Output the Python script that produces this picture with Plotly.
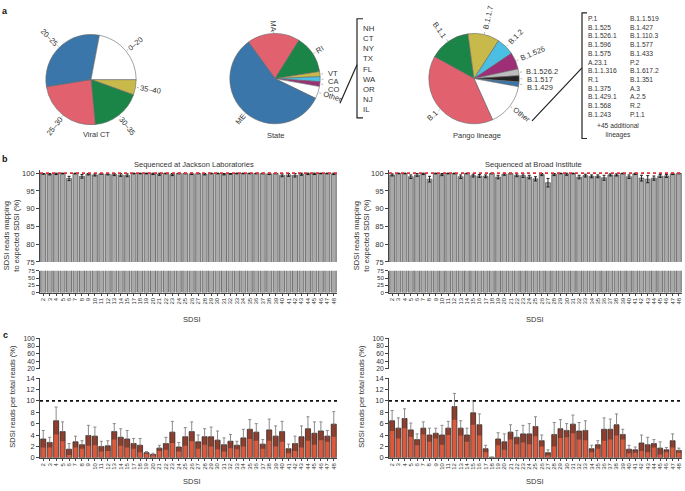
import math
import plotly.graph_objects as go

W, H = 685, 491


def px(x):
    return x / W


def py(y):
    return 1 - y / H


# ---------------- data ----------------
# viral CT slices, listed clockwise from 3 o'clock
ct_labels = ["35\u201340", "30\u201335", "25\u201330", "20\u201325", "0\u201320"]
ct_values = [5.5, 18, 24, 30.5, 22]
ct_colors = ["#c8b94b", "#1b8548", "#e2616f", "#3a76a9", "#ffffff"]

state_labels = ["MA", "RI", "VT", "CA", "CO", "Other", "ME"]
state_values = [18.9, 13.6, 1.8, 1.8, 1.7, 4.4, 57.8]
state_colors = ["#e2616f", "#1b8548", "#c8b94b", "#4bbfe3", "#9e2f77", "#ffffff", "#3a76a9"]
other_states = ["NH", "CT", "NY", "TX", "FL", "WA", "OR", "NJ", "IL"]

pango_labels = ["B.1.1", "B.1.1.7", "B.1.2", "B.1.526", "B.1.526.2", "B.1.517",
                "B.1.429", "Other", "B.1"]
pango_values = [14.8, 11.3, 6.4, 6.0, 2.4, 2.2, 1.7, 15.4, 39.8]
pango_colors = ["#1b8548", "#c8b94b", "#4bbfe3", "#9e2f77", "#bdbdbd", "#222222",
                "#3a76a9", "#ffffff", "#e2616f"]
other_pango_1 = ["P.1", "B.1.525", "B.1.526.1", "B.1.596", "B.1.575", "A.23.1",
                 "B.1.1.316", "R.1", "B.1.375", "B.1.429.1", "B.1.568", "B.1.243"]
other_pango_2 = ["B.1.1.519", "B.1.427", "B.1.110.3", "B.1.577", "B.1.433", "P.2",
                 "B.1.617.2", "B.1.351", "A.3", "A.2.5", "R.2", "P.1.1"]

sdsi_jax = ["2", "3", "4", "5", "6", "7", "8", "9", "10", "11", "12", "13", "14", "15",
            "17", "18", "19", "20", "21", "22", "23", "24", "25", "26", "27", "28", "29",
            "30", "31", "32", "33", "34", "35", "36", "37", "38", "39", "40", "41", "42",
            "43", "44", "45", "46", "47", "48"]
sdsi_broad = ["2", "3", "4", "5", "6", "7", "8", "9", "10", "11", "12", "13", "14", "15",
              "16", "17", "18", "19", "20", "21", "22", "23", "24", "25", "26", "27", "28",
              "29", "30", "31", "32", "33", "34", "35", "36", "37", "38", "39", "40", "41",
              "42", "43", "44", "45", "46", "47", "48"]

map_jax = [99.8, 99.7, 99.8, 99.9, 98.5, 99.9, 99.1, 99.7, 99.5, 99.8, 99.7, 99.6, 99.5,
           99.4, 99.9, 99.9, 99.9, 99.8, 99.7, 99.9, 99.6, 99.9, 99.9, 99.8, 99.9, 99.7,
           99.9, 99.9, 99.7, 99.8, 99.9, 99.9, 99.9, 99.9, 99.9, 99.8, 99.9, 99.4, 99.5,
           99.4, 99.7, 99.8, 99.8, 99.9, 99.9, 99.8]
map_jax_err = [0.1, 0.2, 0.2, 0.1, 0.6, 0.1, 0.5, 0.2, 0.3, 0.1, 0.2, 0.3, 0.4, 0.4, 0.1,
               0.1, 0.1, 0.2, 0.3, 0.1, 0.3, 0.1, 0.1, 0.2, 0.1, 0.2, 0.1, 0.1, 0.2, 0.1,
               0.1, 0.1, 0.1, 0.1, 0.1, 0.2, 0.1, 0.4, 0.4, 0.5, 0.3, 0.2, 0.2, 0.1, 0.1, 0.2]
map_broad = [99.5, 99.9, 99.9, 99.0, 99.5, 99.8, 98.3, 99.9, 99.6, 99.9, 99.9, 99.0, 99.9,
             99.3, 99.2, 99.1, 99.9, 98.9, 99.7, 99.9, 99.4, 99.3, 98.9, 98.4, 99.6, 97.3,
             99.6, 99.9, 99.7, 99.9, 98.9, 99.3, 99.1, 99.1, 98.7, 99.5, 99.5, 99.9, 99.0,
             99.8, 98.6, 98.3, 98.6, 99.2, 99.2, 99.8, 99.9]
map_broad_err = [0.3, 0.1, 0.1, 0.5, 0.4, 0.2, 0.8, 0.1, 0.3, 0.1, 0.1, 0.5, 0.1, 0.4, 0.4,
                 0.4, 0.1, 0.5, 0.3, 0.1, 0.4, 0.5, 0.5, 0.6, 0.3, 1.2, 0.3, 0.1, 0.3, 0.1,
                 0.5, 0.4, 0.4, 0.4, 0.7, 0.3, 0.3, 0.1, 0.5, 0.2, 0.8, 1.0, 0.6, 0.4, 0.4,
                 0.2, 0.1]

frac_jax = [3.3, 2.7, 6.5, 4.6, 1.5, 2.8, 2.3, 3.9, 3.8, 2.0, 2.1, 4.6, 3.6, 3.3, 2.5, 2.2,
            0.9, 0.6, 1.7, 2.5, 4.5, 1.9, 3.7, 4.6, 2.8, 3.7, 3.7, 3.1, 2.3, 2.9, 2.2, 3.5,
            5.0, 4.5, 2.4, 4.9, 3.8, 4.6, 1.6, 2.5, 3.7, 5.1, 4.3, 4.7, 3.8, 5.9]
frac_jax_err = [1.5, 0.9, 2.4, 1.7, 1.0, 1.0, 0.7, 1.8, 1.6, 0.9, 0.9, 1.4, 1.5, 1.5, 0.9,
                1.2, 0.2, 0.2, 0.5, 1.1, 1.9, 0.8, 1.6, 1.7, 1.2, 1.4, 1.7, 1.6, 1.2, 1.2,
                0.7, 1.5, 1.7, 1.5, 0.8, 1.9, 1.8, 1.8, 0.8, 1.3, 1.9, 2.1, 2.0, 1.6, 1.0, 2.2]
frac_broad = [6.5, 5.2, 6.9, 4.9, 3.2, 5.2, 4.0, 4.3, 4.0, 5.2, 9.0, 5.2, 4.0, 7.9, 5.8, 1.6,
              0.1, 3.3, 2.8, 4.5, 3.6, 4.2, 4.2, 5.5, 3.0, 0.9, 4.1, 5.1, 4.8, 5.9, 4.7, 4.8,
              1.6, 2.3, 5.0, 5.0, 5.8, 4.1, 1.5, 1.4, 2.6, 2.3, 2.5, 1.7, 1.4, 3.0, 1.3]
frac_broad_err = [1.8, 1.8, 1.7, 1.2, 1.0, 1.1, 1.2, 0.9, 1.7, 1.2, 2.3, 1.3, 1.2, 2.1, 1.9,
                  0.6, 0.0, 1.1, 1.4, 1.3, 1.2, 1.5, 1.8, 1.7, 1.0, 0.5, 2.1, 1.6, 1.2, 1.6,
                  1.5, 1.7, 0.6, 0.7, 2.0, 1.8, 1.9, 0.9, 0.7, 0.5, 1.4, 1.3, 0.7, 1.1, 0.4,
                  1.2, 0.4]

FONT = "Liberation Sans, Arial, sans-serif"
TXT = "#333333"

fig = go.Figure()
annotations = []
shapes = []


def note(text, x, y, size=7.5, angle=0, xanchor="center", align="center", color=TXT):
    annotations.append(dict(x=px(x), y=py(y), xref="paper", yref="paper", text=text,
                            textangle=angle, showarrow=False, xanchor=xanchor,
                            yanchor="middle", align=align,
                            font=dict(size=size, color=color, family=FONT)))


# ---------------- panel a: pies ----------------
def add_pie(labels, values, colors, cx, cy, r, rotation, fs=7.5):
    fig.add_trace(go.Pie(
        labels=labels, values=values, sort=False, direction="clockwise", rotation=rotation,
        marker=dict(colors=colors, line=dict(color="#666666", width=0.6)),
        textinfo="none", showlegend=False,
        domain=dict(x=[px(cx - r), px(cx + r)], y=[py(cy + r), py(cy - r)]),
    ))
    # radial labels at the slice mid-angles; near-horizontal ones stacked
    total = sum(values)
    acc = 0
    last_y = -1e9
    for lab, v in zip(labels, values):
        deg = (90 - rotation) - (acc + v / 2) / total * 360
        acc += v
        a = math.radians(deg)
        ca, sa = math.cos(a), math.sin(a)
        deg = (deg + 180) % 360 - 180
        shapes.append(dict(
            type="line", xref="paper", yref="paper",
            x0=px(cx + (r + 0.5) * ca), y0=py(cy - (r + 0.5) * sa),
            x1=px(cx + (r + 2.5) * ca), y1=py(cy - (r + 2.5) * sa),
            line=dict(color="#888888", width=0.6)))
        if abs(deg) < 12 and v / total < 0.05:
            ly = max(cy - (r + 4) * sa, last_y + 8)
            last_y = ly
            note(lab, cx + (r + 5) * ca, ly, size=fs, xanchor="left")
            continue
        d = r + 4 + 0.5 * len(lab) * 0.53 * fs
        ang = -deg if ca >= -1e-6 else 180 - deg
        ang = (ang + 180) % 360 - 180
        note(lab, cx + d * ca, cy - d * sa, size=fs, angle=ang)


add_pie(ct_labels, ct_values, ct_colors, 91, 77, 46, 90)
add_pie(state_labels, state_values, state_colors, 275, 76, 46, -36)
add_pie(pango_labels, pango_values, pango_colors, 474, 76, 46, -61)

note("Viral CT", 96, 133)
note("State", 276, 134)
note("Pango lineage", 477, 134)

# brackets with the lists behind "Other"
note("<br>".join(other_states), 361, 66, size=7.8, xanchor="left", align="left")
note("<br>".join(other_pango_1), 586, 64, size=6.7, xanchor="left", align="left")
note("<br>".join(other_pango_2), 628, 64, size=6.7, xanchor="left", align="left")
note("+45 additional<br>lineages", 618, 128.5, size=6.7)


def bracket(x_in, x_out, y0, y1):
    return dict(type="path", xref="paper", yref="paper",
                path=f"M {px(x_in)} {py(y0)} L {px(x_out)} {py(y0)} L {px(x_out)} {py(y1)} L {px(x_in)} {py(y1)}",
                line=dict(color="#222222", width=1.2))


shapes.append(bracket(363, 357, 15, 116))
shapes.append(bracket(587, 582, 9, 137))
shapes.append(dict(type="line", xref="paper", yref="paper", x0=px(340), y0=py(101),
                   x1=px(357), y1=py(62), line=dict(color="#222222", width=1.2)))
shapes.append(dict(type="line", xref="paper", yref="paper", x0=px(532), y0=py(119),
                   x1=px(582), y1=py(65), line=dict(color="#222222", width=1.2)))


# ---------------- panels b and c: bars on broken axes ----------------
def grey_bars(x, y, e, xa, ya):
    fig.add_trace(go.Bar(
        x=x, y=y, xaxis=xa, yaxis=ya, showlegend=False,
        marker=dict(color="#a9a9a9", line=dict(color="#333333", width=0.6)),
        error_y=dict(type="data", array=e, color="#111111", thickness=0.9, width=1.5)))


def red_bars(x, y, e, xa, ya):
    fig.add_trace(go.Bar(
        x=x, y=y, xaxis=xa, yaxis=ya, showlegend=False,
        marker=dict(color="#db5a3d", line=dict(color="#3d2f2b", width=0.8)),
        error_y=dict(type="data", symmetric=False, array=e, arrayminus=[0] * len(e),
                     color="#8a8a8a", thickness=1, width=1.5)))
    lo = [max(v - s, 0) for v, s in zip(y, e)]
    fig.add_trace(go.Bar(
        x=x, y=[v - b for v, b in zip(y, lo)], base=lo, xaxis=xa, yaxis=ya,
        showlegend=False, marker=dict(color="rgba(45,30,28,0.45)", line=dict(width=0)),
        hoverinfo="skip"))


grey_bars(sdsi_jax, map_jax, map_jax_err, "x", "y")
grey_bars(sdsi_jax, map_jax, map_jax_err, "x2", "y2")
grey_bars(sdsi_broad, map_broad, map_broad_err, "x3", "y3")
grey_bars(sdsi_broad, map_broad, map_broad_err, "x4", "y4")
red_bars(sdsi_jax, frac_jax, frac_jax_err, "x5", "y5")
red_bars(sdsi_jax, frac_jax, frac_jax_err, "x6", "y6")
red_bars(sdsi_broad, frac_broad, frac_broad_err, "x7", "y7")
red_bars(sdsi_broad, frac_broad, frac_broad_err, "x8", "y8")

LEFT = (40, 337)
RIGHT = (389, 682)


def xax(dom, cats, lower, anchor):
    d = dict(domain=[px(dom[0]), px(dom[1])], type="category",
             range=[-0.5, len(cats) - 0.5], anchor=anchor, showgrid=False,
             zeroline=False, fixedrange=True)
    if lower:
        d.update(showline=True, linecolor="#444444", linewidth=0.8, ticks="outside",
                 ticklen=2, tickwidth=0.6, tickcolor="#444444", tickangle=-90,
                 tickmode="array", tickvals=cats, ticktext=cats,
                 tickfont=dict(size=6, color=TXT, family=FONT))
    else:
        d.update(showline=False, ticks="", showticklabels=False)
    return d


def yax(spec, anchor):
    return dict(range=spec["rng"], domain=[py(spec["bot"]), py(spec["top"])],
                tickmode="array", tickvals=spec["tickvals"], anchor=anchor,
                showline=True, linecolor="#444444", linewidth=0.8, ticks="outside",
                ticklen=3, tickwidth=0.7, tickcolor="#444444", showgrid=False,
                zeroline=False, fixedrange=True,
                tickfont=dict(size=spec["fs"], color=TXT, family=FONT))


b_up = dict(rng=[75, 100.8], top=172.3 - 0.8 * 90.4 / 25, bot=262.7,
            tickvals=[75, 80, 85, 90, 95, 100], fs=7.5)
b_lo = dict(rng=[0, 75], top=271.7, bot=294, tickvals=[0, 25, 50, 75], fs=6.2)
c_up = dict(rng=[20, 100], top=340.7, bot=371.7, tickvals=[20, 40, 60, 80, 100], fs=6.8)
c_lo = dict(rng=[0, 14], top=381, bot=462.3, tickvals=[0, 2, 4, 6, 8, 10, 12, 14], fs=7.5)

layout_axes = {}
panels = [(LEFT, sdsi_jax, b_up, False), (LEFT, sdsi_jax, b_lo, True),
          (RIGHT, sdsi_broad, b_up, False), (RIGHT, sdsi_broad, b_lo, True),
          (LEFT, sdsi_jax, c_up, False), (LEFT, sdsi_jax, c_lo, True),
          (RIGHT, sdsi_broad, c_up, False), (RIGHT, sdsi_broad, c_lo, True)]
for i, (dom, cats, yspec, lower) in enumerate(panels, start=1):
    sfx = "" if i == 1 else str(i)
    layout_axes["xaxis" + sfx] = xax(dom, cats, lower, "y" + sfx)
    layout_axes["yaxis" + sfx] = yax(yspec, "x" + sfx)

# reference lines
for xa, ya in [("x", "y"), ("x3", "y3")]:
    shapes.append(dict(type="line", xref=xa + " domain", x0=0, x1=1, yref=ya, y0=100, y1=100,
                       line=dict(color="#e0303a", width=1.8, dash="dot"), layer="above"))
for xa, ya in [("x6", "y6"), ("x8", "y8")]:
    shapes.append(dict(type="line", xref=xa + " domain", x0=0, x1=1, yref=ya, y0=10, y1=10,
                       line=dict(color="#111111", width=1.8, dash="dot"), layer="above"))

# panel letters, titles, axis titles
note("<b>a</b>", 5, 7, size=9, color="#111111")
note("<b>b</b>", 5, 158, size=9, color="#111111")
note("<b>c</b>", 5, 337, size=9, color="#111111")
note("Sequenced at Jackson Laboratories", 194, 163)
note("Sequenced at Broad Institute", 533, 163)
note("SDSI", 192, 321)
note("SDSI", 535, 321)
note("SDSI", 192, 486)
note("SDSI", 535, 486)
note("SDSI reads mapping<br>to expected SDSI (%)", 12, 236, angle=-90)
note("SDSI reads mapping<br>to expected SDSI (%)", 362, 236, angle=-90)
note("SDSI reads per total reads (%)", 13, 400, angle=-90)
note("SDSI reads per total reads (%)", 362, 400, angle=-90)

fig.update_layout(
    width=W, height=H, margin=dict(l=0, r=0, t=0, b=0),
    paper_bgcolor="white", plot_bgcolor="white",
    barmode="overlay", bargap=0.22,
    font=dict(family=FONT, color=TXT),
    annotations=annotations, shapes=shapes,
    **layout_axes,
)

fig.write_html("out.html", config={"displayModeBar": False},
               post_script="document.body.style.margin='0';")
